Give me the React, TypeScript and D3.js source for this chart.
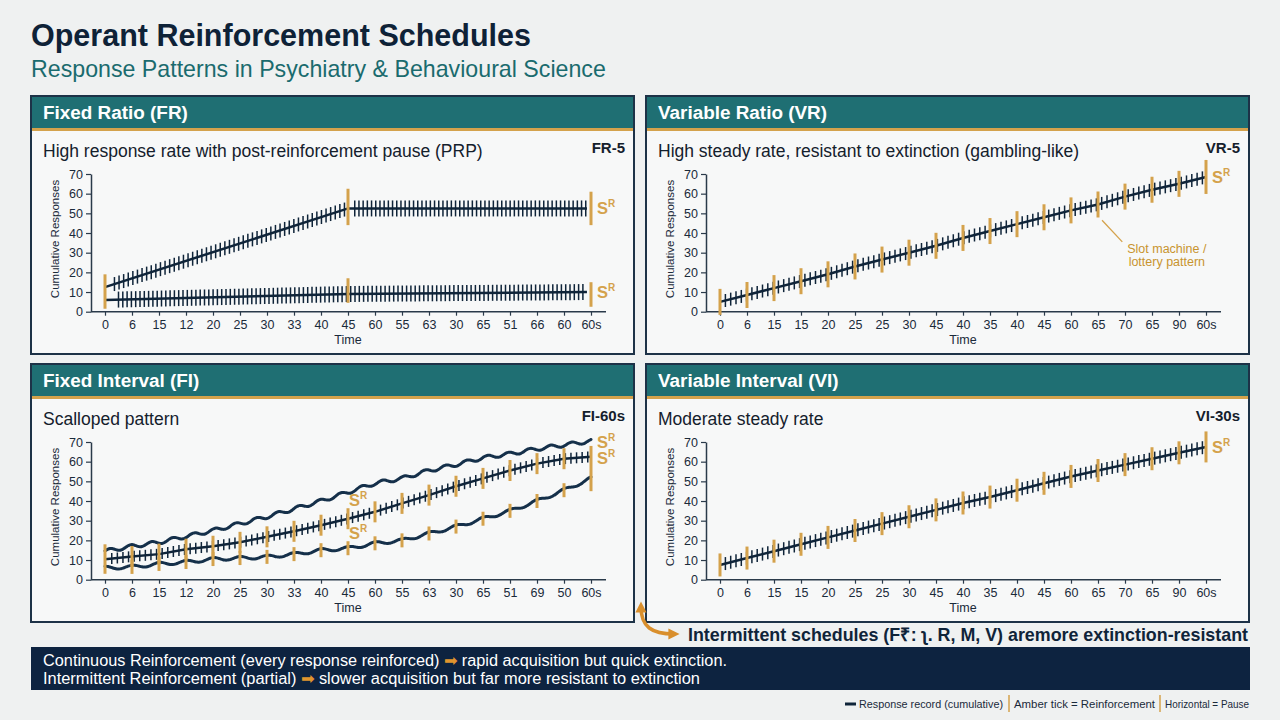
import React, { useEffect, useRef } from "react";
import * as d3 from "d3";

const NAVY = "#0f2439";
const TEAL = "#1f6f73";
const AMBER = "#d4a24c";
const FONT = "'Liberation Sans', Arial, sans-serif";

// tick labels exactly as printed under each time axis
const ratioTicks = ["0", "6", "15", "12", "20", "25", "30", "33", "40", "45", "60", "55", "63", "30", "65", "51", "66", "60", "60s"];
const intervalTicks = ["0", "6", "15", "12", "20", "25", "30", "33", "40", "45", "60", "55", "63", "30", "65", "51", "69", "50", "60s"];
const variableTicks = ["0", "6", "15", "15", "20", "25", "25", "30", "45", "40", "35", "40", "45", "60", "65", "70", "65", "90", "60s"];
const yTicks = [0, 10, 20, 30, 40, 50, 60, 70];

// position on the time axis (tick index) of every point below
const steps = [0, 1, 2, 3, 4, 5, 6, 7, 8, 9, 10, 11, 12, 13, 14, 15, 16, 17, 18];

// FR: burst of responding, then pause
const frRunT = [0, 9, 17.85];
const frRunV = [12.5, 52.5, 52.5];
const frLowT = [0, 9, 17.85];
const frLowV = [6, 9, 10];
const frReinf = [
  { t: 0, lo: 1.5, hi: 19 },
  { t: 9, lo: 44, hi: 62.5 },
  { t: 9, lo: 4.5, hi: 17 },
  { t: 18, lo: 44, hi: 61 },
  { t: 18, lo: 2.5, hi: 15 },
];

// VR and VI: steady cumulative records
const vrV = [5, 8.5, 12, 15.5, 19, 23, 26.5, 30, 33.5, 37.5, 41, 44.5, 48, 51.5, 54.5, 58.5, 62, 65, 68.5];
const viV = [7.5, 11, 14.5, 18, 21.5, 25, 28.5, 32, 35.5, 39, 42, 45.5, 49, 52.5, 55.5, 58.5, 61.5, 64.5, 67.5];

// FI: three scalloped records
const fiTopV = [14.5, 17, 19, 22, 25, 28.5, 32, 36, 40, 44.5, 49, 51.5, 55.5, 58.5, 62, 64, 66.5, 68.5, 70.5];
const fiMidV = [10.4, 11.8, 13, 15.5, 17, 19, 21.8, 24.6, 27.7, 31, 34.5, 38.8, 43, 47.5, 51.5, 55.5, 59, 61.5, 62.5];
const fiLowV = [6, 6.5, 8, 9, 10.5, 11, 11.6, 13, 15, 16, 18.5, 20, 23.5, 27, 31, 35, 40, 45.5, 51.5];

const panels = [
  { x0: 31, y0: 96, title: "Fixed Ratio (FR)", desc: "High response rate with post-reinforcement pause (PRP)", code: "FR-5", ticks: ratioTicks, kind: "fr" },
  { x0: 646, y0: 96, title: "Variable Ratio (VR)", desc: "High steady rate, resistant to extinction (gambling-like)", code: "VR-5", ticks: variableTicks, kind: "vr" },
  { x0: 31, y0: 364, title: "Fixed Interval (FI)", desc: "Scalloped pattern", code: "FI-60s", ticks: intervalTicks, kind: "fi" },
  { x0: 646, y0: 364, title: "Variable Interval (VI)", desc: "Moderate steady rate", code: "VI-30s", ticks: variableTicks, kind: "vi" },
];

const PW = 603;
const PH = 258;

const App = () => {
  const ref = useRef<SVGSVGElement>(null);

  useEffect(() => {
    const svg = d3.select(ref.current);
    svg.selectAll("*").remove();

    const defs = svg.append("defs");
    defs
      .append("marker")
      .attr("id", "ah")
      .attr("viewBox", "0 0 10 10")
      .attr("refX", 5)
      .attr("refY", 5)
      .attr("markerWidth", 3.2)
      .attr("markerHeight", 3.2)
      .attr("orient", "auto-start-reverse")
      .append("path")
      .attr("d", "M0,0 L10,5 L0,10 z")
      .attr("fill", "#d98f2c");

    svg.append("rect").attr("width", 1280).attr("height", 720).attr("fill", "#eff1f1");

    svg
      .append("text")
      .attr("x", 31)
      .attr("y", 46)
      .attr("font-family", FONT)
      .attr("font-weight", "bold")
      .attr("font-size", 30.5)
      .attr("fill", "#0e2237")
      .text("Operant Reinforcement Schedules");
    svg
      .append("text")
      .attr("x", 31)
      .attr("y", 77)
      .attr("font-family", FONT)
      .attr("font-size", 23.2)
      .attr("fill", "#1a6b6e")
      .text("Response Patterns in Psychiatry & Behavioural Science");

    panels.forEach((p) => drawPanel(svg, p));

    // curved callout arrow
    svg
      .append("path")
      .attr("d", "M641,607 C641,627 652,634 674,634")
      .attr("fill", "none")
      .attr("stroke", "#d98f2c")
      .attr("stroke-width", 3.5)
      .attr("marker-start", "url(#ah)")
      .attr("marker-end", "url(#ah)");
    svg
      .append("text")
      .attr("x", 688)
      .attr("y", 641)
      .attr("font-family", FONT)
      .attr("font-weight", "bold")
      .attr("font-size", 18.5)
      .attr("fill", NAVY)
      .attr("textLength", 560)
      .attr("lengthAdjust", "spacingAndGlyphs")
      .text("Intermittent schedules (F₹: ʅ. R, M, V) aremore extinction-resistant");

    // summary box
    svg.append("rect").attr("x", 31).attr("y", 647).attr("width", 1219).attr("height", 43).attr("fill", "#0d2340");
    const lines = [
      { a: "Continuous Reinforcement (every response reinforced) ", b: " rapid acquisition but quick extinction.", y: 666, w: 684 },
      { a: "Intermittent Reinforcement (partial) ", b: " slower acquisition but far more resistant to extinction", y: 684, w: 657 },
    ];
    lines.forEach((l) => {
      const t = svg
        .append("text")
        .attr("x", 43)
        .attr("y", l.y)
        .attr("font-family", FONT)
        .attr("font-size", 16)
        .attr("fill", "#ffffff")
        .attr("textLength", l.w)
        .attr("lengthAdjust", "spacingAndGlyphs");
      t.append("tspan").text(l.a);
      t.append("tspan").attr("fill", "#e0952e").text("➡");
      t.append("tspan").text(l.b);
    });

    // legend strip
    const lg = svg.append("g").attr("font-family", FONT).attr("font-size", 10.5).attr("fill", "#1a2a3a");
    lg.append("line").attr("x1", 845).attr("x2", 856).attr("y1", 704).attr("y2", 704).attr("stroke", NAVY).attr("stroke-width", 3);
    lg.append("text").attr("x", 859).attr("y", 708).attr("textLength", 144).attr("lengthAdjust", "spacingAndGlyphs").text("Response record (cumulative)");
    lg.append("line").attr("x1", 1009).attr("x2", 1009).attr("y1", 695).attr("y2", 712).attr("stroke", AMBER).attr("stroke-width", 1.5);
    lg.append("text").attr("x", 1014).attr("y", 708).attr("textLength", 141).attr("lengthAdjust", "spacingAndGlyphs").text("Amber tick = Reinforcement");
    lg.append("line").attr("x1", 1160).attr("x2", 1160).attr("y1", 695).attr("y2", 712).attr("stroke", AMBER).attr("stroke-width", 1.5);
    lg.append("text").attr("x", 1165).attr("y", 708).attr("textLength", 84).attr("lengthAdjust", "spacingAndGlyphs").text("Horizontal = Pause");
  }, []);

  return (
    <div>
      <svg ref={ref} width={1280} height={720} style={{ position: "absolute", left: 0, top: 0 }}></svg>
    </div>
  );
};

function drawPanel(svg: any, p: any) {
  const g = svg.append("g").attr("transform", `translate(${p.x0},${p.y0})`).attr("font-family", FONT);

  g.append("rect").attr("width", PW).attr("height", PH).attr("fill", "#f7f8f8").attr("stroke", "#1d3247").attr("stroke-width", 2);
  g.append("rect").attr("x", 1).attr("y", 1).attr("width", PW - 2).attr("height", 31).attr("fill", TEAL);
  g.append("rect").attr("x", 1).attr("y", 32).attr("width", PW - 2).attr("height", 3).attr("fill", AMBER);
  g.append("text").attr("x", 12).attr("y", 23).attr("font-weight", "bold").attr("font-size", 18.9).attr("fill", "#fff").text(p.title);
  g.append("text").attr("x", 12).attr("y", 61).attr("font-size", 17.5).attr("fill", "#14202c").text(p.desc);
  g.append("text").attr("x", 594).attr("y", 57).attr("text-anchor", "end").attr("font-weight", "bold").attr("font-size", 15).attr("fill", "#14202c").text(p.code);

  const x = d3.scaleLinear().domain([0, 18]).range([74, 560]);
  const y = d3.scaleLinear().domain([0, 70]).range([215.7, 78]);

  // axes
  const xa = g
    .append("g")
    .attr("transform", `translate(0,${y(0)})`)
    .call(d3.axisBottom(x).tickValues(steps).tickFormat((i: any) => p.ticks[i]).tickSize(4).tickPadding(4).tickSizeOuter(0));
  xa.select(".domain").remove();
  xa.selectAll("line").attr("stroke", "#2a3a4a").attr("stroke-width", 1.2);
  xa.selectAll("text").attr("font-family", FONT).attr("font-size", 12.5).attr("fill", "#1a2a3a");
  g.append("line").attr("x1", 60).attr("x2", 575).attr("y1", y(0)).attr("y2", y(0)).attr("stroke", "#2a3a4a").attr("stroke-width", 1.5);

  const ya = g
    .append("g")
    .attr("transform", "translate(60,0)")
    .call(d3.axisLeft(y).tickValues(yTicks).tickSize(5).tickPadding(3).tickSizeOuter(0));
  ya.select(".domain").attr("stroke", "#2a3a4a").attr("stroke-width", 1.5);
  ya.selectAll("line").attr("stroke", "#2a3a4a").attr("stroke-width", 1.2);
  ya.selectAll("text").attr("font-family", FONT).attr("font-size", 12.5).attr("fill", "#1a2a3a");

  g.append("text").attr("x", x(9)).attr("y", 248).attr("text-anchor", "middle").attr("font-size", 12.5).attr("fill", "#1a2a3a").text("Time");
  g.append("text")
    .attr("transform", `translate(28,143) rotate(-90)`)
    .attr("text-anchor", "middle")
    .attr("font-size", 11.5)
    .attr("fill", "#1a2a3a")
    .text("Cumulative Responses");

  const marks = g.append("g");

  const path = (T: number[], V: number[], w: number) =>
    marks
      .append("path")
      .attr("d", d3.line().x((d: any) => x(d[0])).y((d: any) => y(d[1]))(d3.zip(T, V) as any))
      .attr("fill", "none")
      .attr("stroke", NAVY)
      .attr("stroke-width", w);

  const wavy = (T: number[], V: number[], w: number, amp: number, period: number) => {
    const f = d3.scaleLinear().domain(T).range(V);
    const pts = d3.range(x(T[0]), x(T[T.length - 1]) + 0.5, 1).map((px) => [px, y(f(x.invert(px))) + amp * Math.sin((px / period) * 2 * Math.PI)]);
    marks
      .append("path")
      .attr("d", d3.line().curve(d3.curveBasis)(pts as any))
      .attr("fill", "none")
      .attr("stroke", "#15304a")
      .attr("stroke-width", w)
      .attr("stroke-linecap", "round");
  };

  const hatch = (T: number[], V: number[], from: number, to: number, step: number, half: number) => {
    const f = d3.scaleLinear().domain(T).range(V).clamp(true);
    marks
      .append("g")
      .selectAll("line")
      .data(d3.range(x(from), x(to), step))
      .join("line")
      .attr("x1", (d: number) => d)
      .attr("x2", (d: number) => d)
      .attr("y1", (d: number) => y(f(x.invert(d))) - half)
      .attr("y2", (d: number) => y(f(x.invert(d))) + half)
      .attr("stroke", NAVY)
      .attr("stroke-width", 1.5);
  };

  const amberAt = (T: number[], V: number[], idx: number[], half: number, w = 3) => {
    const f = d3.scaleLinear().domain(T).range(V).clamp(true);
    marks
      .append("g")
      .selectAll("line")
      .data(idx)
      .join("line")
      .attr("x1", (d: number) => x(d))
      .attr("x2", (d: number) => x(d))
      .attr("y1", (d: number) => y(f(d)) - half)
      .attr("y2", (d: number) => y(f(d)) + half)
      .attr("stroke", AMBER)
      .attr("stroke-width", w);
  };

  const amberSpan = (list: any[]) =>
    marks
      .append("g")
      .selectAll("line")
      .data(list)
      .join("line")
      .attr("x1", (d: any) => x(d.t))
      .attr("x2", (d: any) => x(d.t))
      .attr("y1", (d: any) => y(d.hi))
      .attr("y2", (d: any) => y(d.lo))
      .attr("stroke", AMBER)
      .attr("stroke-width", 3);

  const sr = (t: number, v: number, dx = 6) => {
    const s = marks
      .append("text")
      .attr("x", x(t) + dx)
      .attr("y", y(v) + 6)
      .attr("fill", AMBER)
      .attr("font-weight", "bold")
      .attr("font-size", 16.5);
    s.append("tspan").text("S");
    s.append("tspan").attr("font-size", 10).attr("dy", -7).text("R");
  };

  if (p.kind === "fr") {
    hatch(frRunT, frRunV, 0.35, 9, 4.6, 7);
    hatch(frRunT, frRunV, 9.25, 17.85, 4.2, 8);
    hatch(frLowT, frLowV, 0.5, 17.85, 4.3, 8);
    path(frRunT, frRunV, 2.5);
    path(frLowT, frLowV, 2.5);
    amberSpan(frReinf);
    sr(18, 52.5);
    sr(18, 10);
  }

  if (p.kind === "vr" || p.kind === "vi") {
    const V = p.kind === "vr" ? vrV : viV;
    const half = p.kind === "vr" ? 13 : 11.5;
    hatch(steps, V, 0.2, 17.9, 5.3, 6.5);
    path(steps, V, 2.5);
    amberAt(steps, V, steps.slice(0, 18), half);
    amberAt(steps, V, [18], half + 4);
    sr(18, V[18]);
    if (p.kind === "vr") {
      marks.append("line").attr("x1", x(14.15)).attr("y1", y(46.5)).attr("x2", x(14.9)).attr("y2", y(35.5)).attr("stroke", AMBER).attr("stroke-width", 1.3);
      marks.append("text").attr("x", x(16.55)).attr("y", y(32) + 4).attr("text-anchor", "middle").attr("font-size", 12.5).attr("fill", "#c8942f").text("Slot machine /");
      marks.append("text").attr("x", x(16.55)).attr("y", y(25.5) + 4).attr("text-anchor", "middle").attr("font-size", 12.5).attr("fill", "#c8942f").text("lottery pattern");
    }
  }

  if (p.kind === "fi") {
    wavy(steps, fiTopV, 3, 1.8, 21);
    hatch(steps, fiMidV, 0.25, 17.9, 5.6, 5.5);
    path(steps, fiMidV, 2.5);
    wavy(steps, fiLowV, 3, 1.6, 27);
    amberAt(steps, fiMidV, steps.slice(1, 18), 10.5);
    amberAt(steps, fiLowV, steps.slice(1, 18), 7);
    amberSpan([{ t: 0, lo: 3, hi: 18 }, { t: 18, lo: 45, hi: 68 }]);
    sr(9, 40.5, 1);
    sr(9, 23.7, 1);
    sr(18, 70);
    sr(18, 61.9);
  }
}

export default App;
